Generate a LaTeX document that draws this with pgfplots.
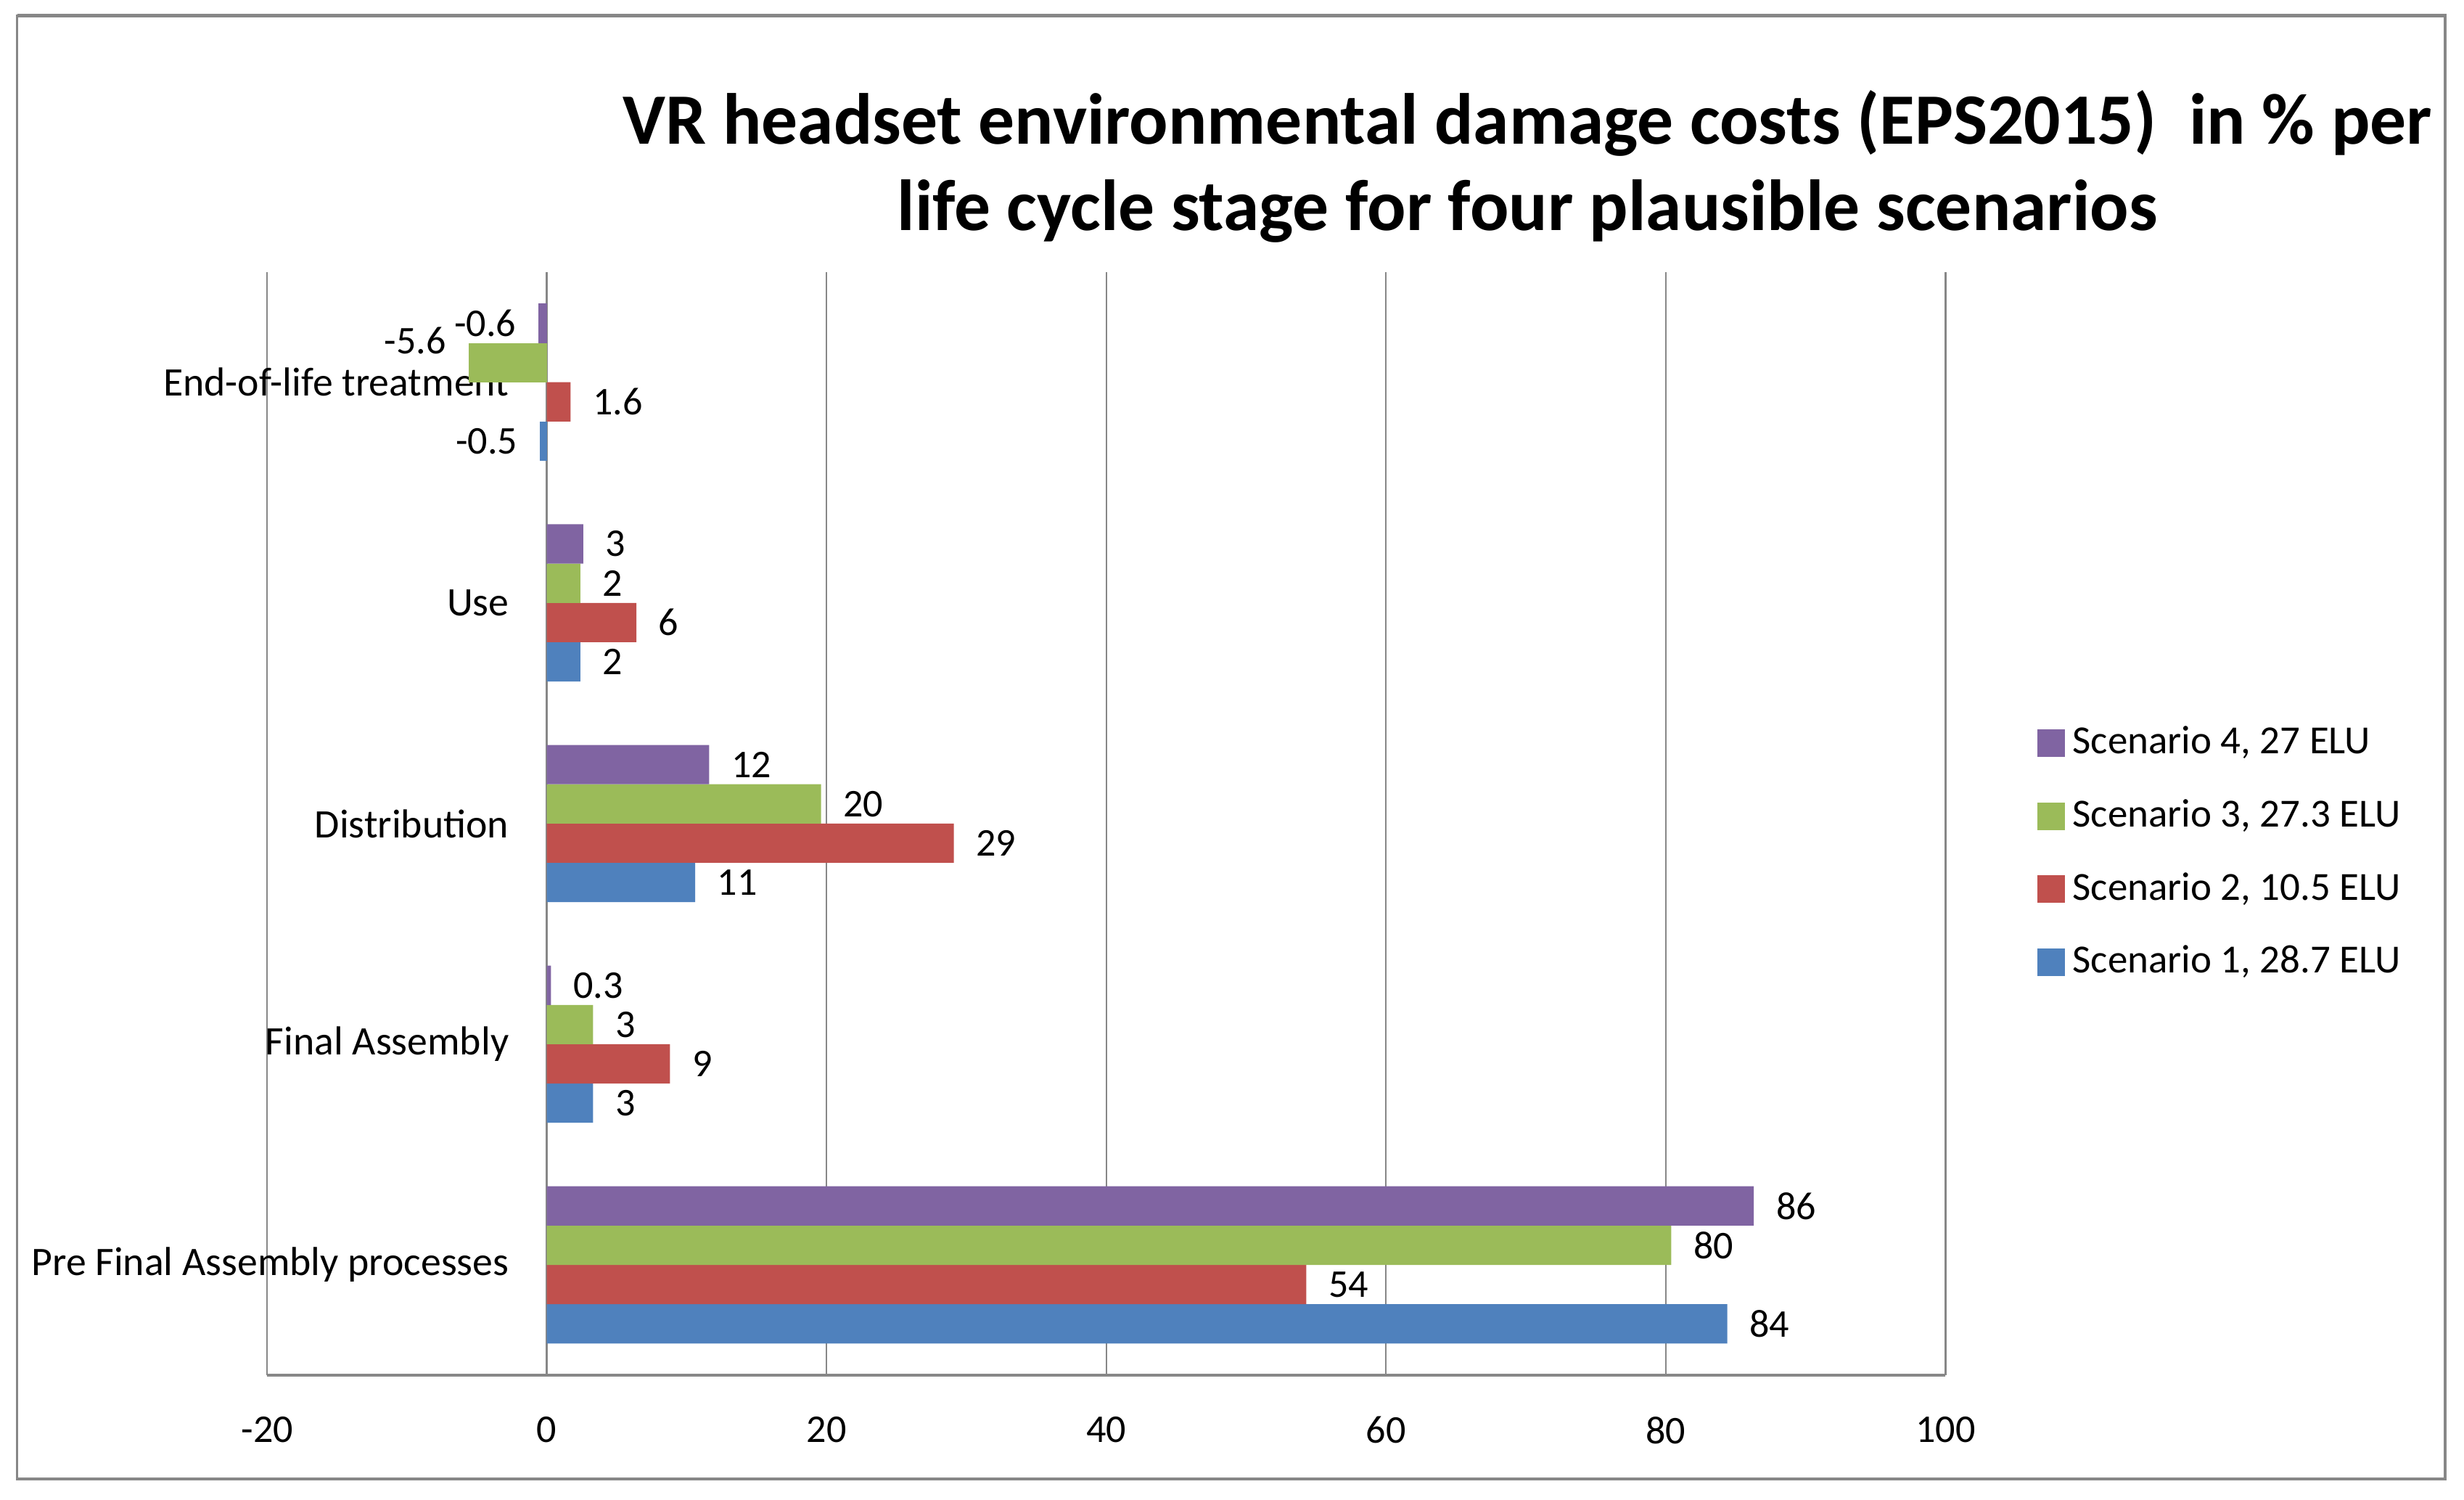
\documentclass[border=0pt]{standalone}
\usepackage{pgfplots}
\pgfplotsset{compat=1.18}
\usepackage{fontspec}
\setmainfont{Carlito}
\definecolor{s1}{HTML}{4F81BD}
\definecolor{s2}{HTML}{C0504D}
\definecolor{s3}{HTML}{9BBB59}
\definecolor{s4}{HTML}{8064A2}
\definecolor{gridgray}{HTML}{878787}
\begin{document}
\begin{tikzpicture}[x=1pt,y=1pt]
\useasboundingbox (0,0) rectangle (627.2,381.6);
\draw[gridgray,line width=0.6pt] (4.4,5.2) rectangle (622.4,377.6);
\draw[gridgray,line width=0.9pt] (4.4,5.2) -- (622.4,5.2) -- (622.4,377.6) -- (4.4,377.6);
\node[align=center,font=\fontsize{18.4}{22.1}\selectfont\bfseries] at (388.8,339.2)
  {VR headset environmental damage costs (EPS2015)\ \ in \% per\\life cycle stage for four plausible scenarios};
\begin{axis}[
  at={(68pt,31.6pt)}, anchor=south west,
  scale only axis, width=427.2pt, height=280.8pt,
  xbar=0pt, bar width=10pt,
  xmin=-20, xmax=100, ymin=-0.5, ymax=4.5,
  xtick={-20,0,20,40,60,80,100},
  xticklabels={-20,0,20,40,60,80,100},
  ytick={0,1,2,3,4},
  yticklabels={Pre Final Assembly processes,Final Assembly,Distribution,Use,End-of-life treatment},
  xmajorgrids, major grid style={gridgray,line width=0.45pt},
  axis x line*=bottom, axis y line*=left,
  x axis line style={gridgray,line width=0.7pt,-},
  y axis line style={draw=none},
  tick style={draw=none},
  tick label style={font=\fontsize{10}{12}\selectfont},
  xticklabel style={yshift=-7pt},
  yticklabel style={inner sep=0pt, anchor=east, xshift=66pt, font=\fontsize{10.3}{12}\selectfont},
  point meta=explicit symbolic,
  nodes near coords={\pgfplotspointmeta},
  every node near coord/.append style={font=\fontsize{10}{12}\selectfont, inner xsep=5.5pt, inner ysep=1pt, black, anchor=west},
  reverse legend,
  legend style={draw=none, fill=none, inner sep=0pt, anchor=west, at={(1.0543,0.4736)},
    row sep=10.1pt, column sep=2pt, font=\fontsize{10.15}{12}\selectfont,
    nodes={inner sep=0pt}},
  legend cell align=left,
  legend image code/.code={\fill[#1] (0pt,-3.5pt) rectangle (7pt,3.5pt);},
]
% positive values
\addplot[fill=s1,draw=none,bar shift=-15pt] coordinates {(84.4,0) [84] (3.3,1) [3] (10.6,2) [11] (2.4,3) [2]};
\addplot[fill=s2,draw=none,bar shift=-5pt] coordinates {(54.3,0) [54] (8.8,1) [9] (29.1,2) [29] (6.4,3) [6] (1.7,4) [1.6]};
\addplot[fill=s3,draw=none,bar shift=5pt] coordinates {(80.4,0) [80] (3.3,1) [3] (19.6,2) [20] (2.4,3) [2]};
\addplot[fill=s4,draw=none,bar shift=15pt] coordinates {(86.3,0) [86] (0.3,1) [0.3] (11.6,2) [12] (2.6,3) [3]};
% negative values (labels on the left)
\addplot[fill=s1,draw=none,bar shift=-15pt,forget plot,
  every node near coord/.append style={anchor=east}] coordinates {(-0.5,4) [-0.5]};
\addplot[fill=s3,draw=none,bar shift=5pt,forget plot,
  every node near coord/.append style={anchor=east,yshift=5.6pt}] coordinates {(-5.6,4) [-5.6]};
\addplot[fill=s4,draw=none,bar shift=15pt,forget plot,
  every node near coord/.append style={anchor=east}] coordinates {(-0.6,4) [-0.6]};
\legend{{Scenario 1, 28.7 ELU},{Scenario 2, 10.5 ELU},{Scenario 3, 27.3 ELU},{Scenario 4, 27 ELU}}
\end{axis}
\end{tikzpicture}
\end{document}
